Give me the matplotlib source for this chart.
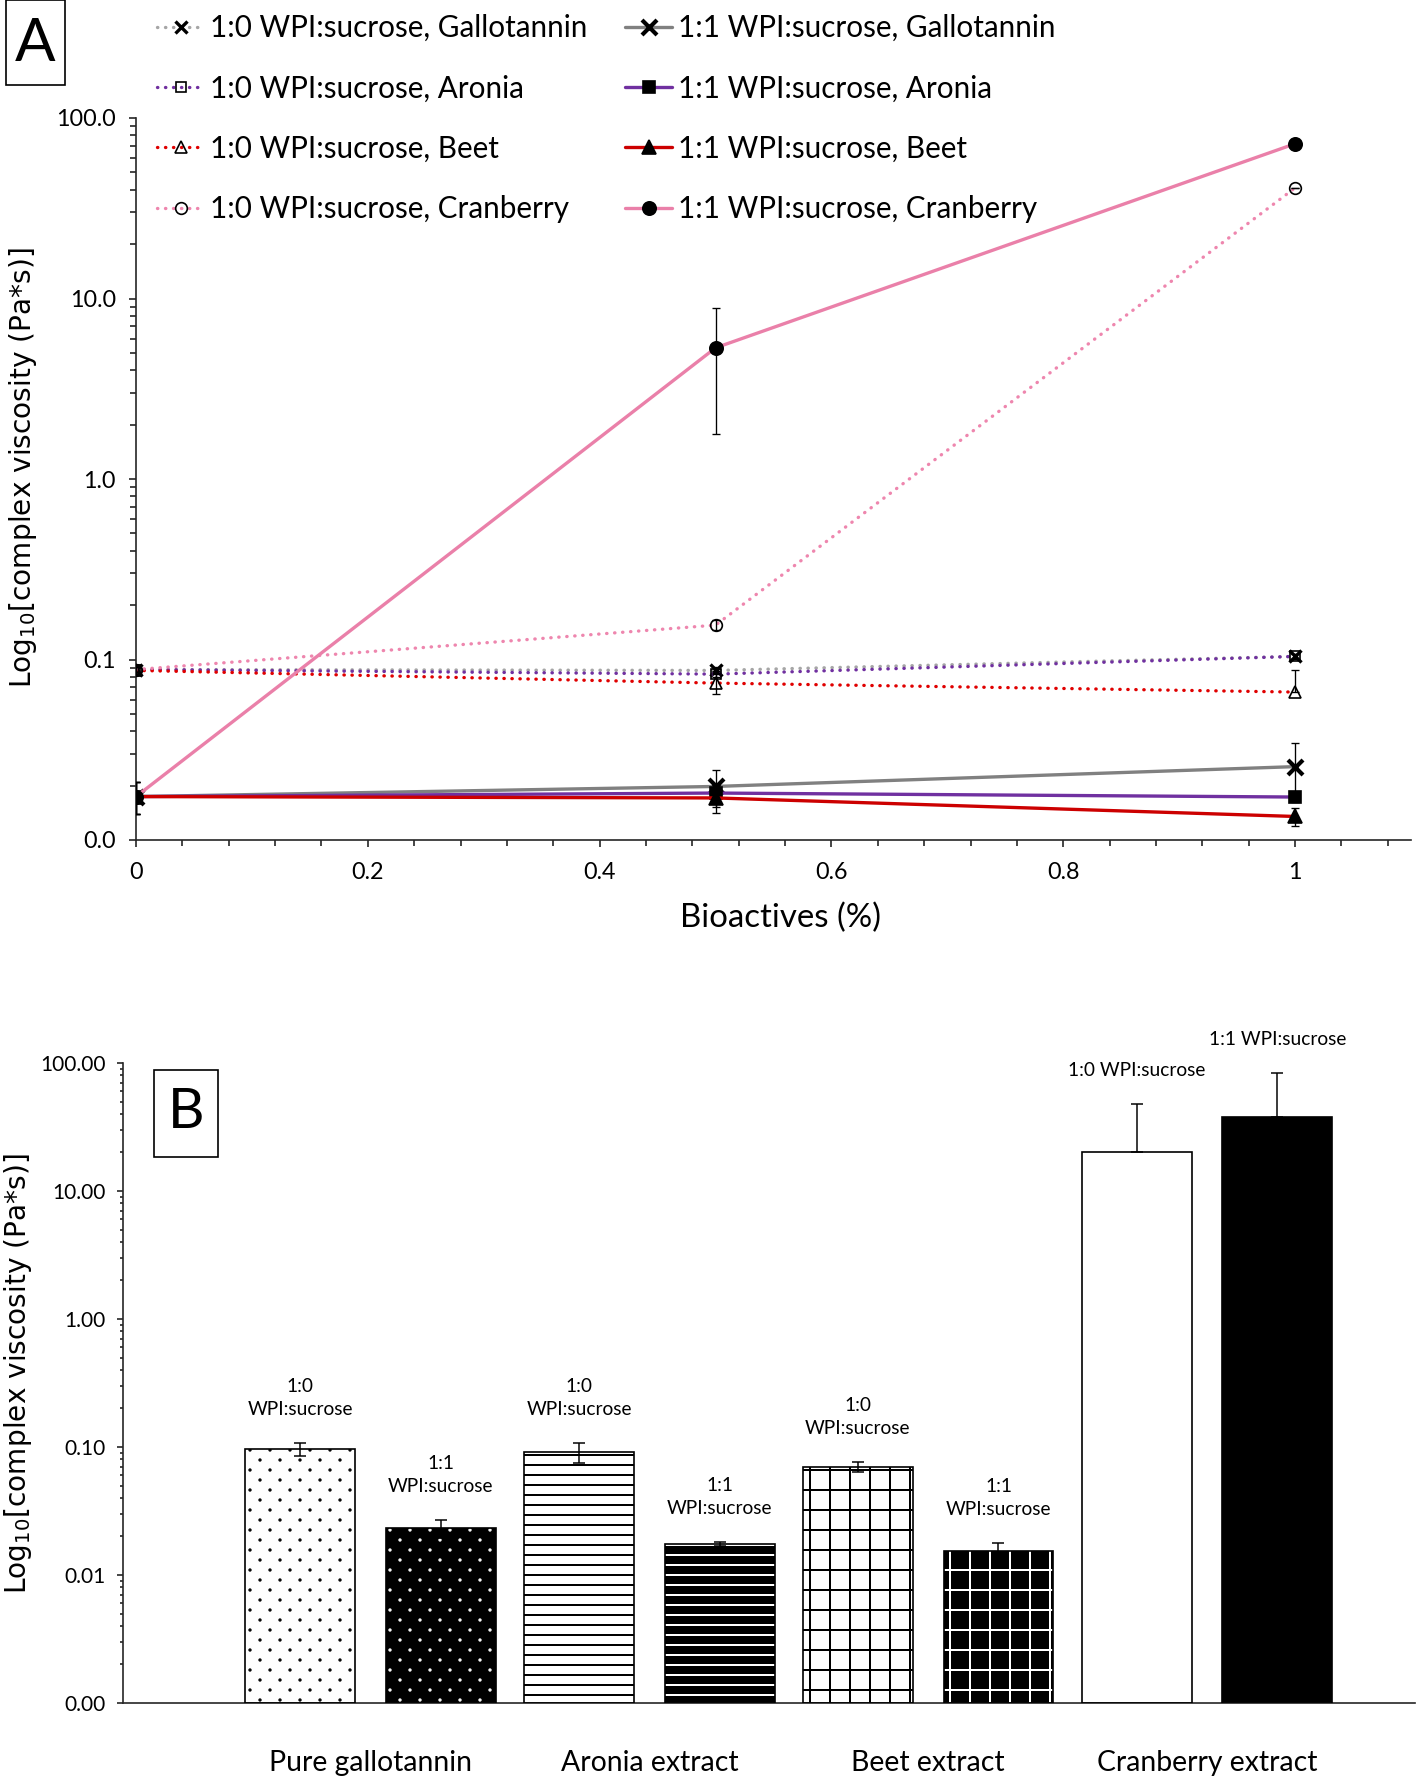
import numpy as np
import matplotlib
matplotlib.use("Agg")
import matplotlib.pyplot as plt
from matplotlib.patches import Rectangle
from matplotlib import hatch as mhatch
from matplotlib.path import Path

# ---------------- Panel A data ----------------
bioactives = [0.0, 0.5, 1.0]
series_labels = [
    "1:0 WPI:sucrose, Gallotannin", "1:0 WPI:sucrose, Aronia",
    "1:0 WPI:sucrose, Beet", "1:0 WPI:sucrose, Cranberry",
    "1:1 WPI:sucrose, Gallotannin", "1:1 WPI:sucrose, Aronia",
    "1:1 WPI:sucrose, Beet", "1:1 WPI:sucrose, Cranberry",
]
gall_10 = [0.088, 0.087, 0.104]
aron_10 = [0.088, 0.083, 0.104]
beet_10 = [0.087, 0.074, 0.066]
cran_10 = [0.088, 0.155, 41.0]
gall_11 = [0.0174, 0.0198, 0.0255]
aron_11 = [0.0174, 0.0182, 0.0173]
beet_11 = [0.0174, 0.0171, 0.0135]
cran_11 = [0.0174, 5.33, 72.0]
# error bars (lower, upper)
gall_10_lo = [0.005, 0.004, 0.003]; gall_10_hi = [0.005, 0.004, 0.003]
aron_10_lo = [0.005, 0.003, 0.003]; aron_10_hi = [0.005, 0.003, 0.003]
beet_10_lo = [0.005, 0.010, 0.0];   beet_10_hi = [0.005, 0.010, 0.021]
cran_10_lo = [0.005, 0.010, 0.0];   cran_10_hi = [0.005, 0.010, 0.0]
gall_11_lo = [0.0035, 0.0045, 0.009]; gall_11_hi = [0.0035, 0.0045, 0.009]
aron_11_lo = [0.0035, 0.002, 0.001];  aron_11_hi = [0.0035, 0.002, 0.001]
beet_11_lo = [0.0035, 0.003, 0.0015]; beet_11_hi = [0.0035, 0.003, 0.0015]
cran_11_lo = [0.0035, 3.55, 4.7];     cran_11_hi = [0.0035, 3.55, 4.7]
a_xticks = [0, 0.2, 0.4, 0.6, 0.8, 1.0]
a_xticklabels = ["0", "0.2", "0.4", "0.6", "0.8", "1"]
a_yticks = [0.01, 0.1, 1, 10, 100]
a_yticklabels = ["0.0", "0.1", "1.0", "10.0", "100.0"]

# ---------------- Panel B data ----------------
categories = ["Pure gallotannin", "Aronia extract", "Beet extract", "Cranberry extract"]
visc_10 = [0.0965, 0.091, 0.070, 20.3]
visc_10_err = [0.011, 0.016, 0.006, 27.5]
visc_11 = [0.0232, 0.0175, 0.0154, 37.6]
visc_11_err = [0.0037, 0.0006, 0.0024, 45.5]
bar_labels_10 = ["1:0\nWPI:sucrose", "1:0\nWPI:sucrose", "1:0\nWPI:sucrose", "1:0 WPI:sucrose"]
bar_labels_11 = ["1:1\nWPI:sucrose", "1:1\nWPI:sucrose", "1:1\nWPI:sucrose", "1:1 WPI:sucrose"]
b_yticks = [0.001, 0.01, 0.1, 1, 10, 100]
b_yticklabels = ["0.00", "0.01", "0.10", "1.00", "10.00", "100.00"]


# ---------------- sparse staggered dot fill pattern (Excel-like) ----------------
class SparseDots(mhatch.HatchPatternBase):
    radius = 0.0055

    def __init__(self, hatch, density):
        n = hatch.count(".")
        centers = []
        if n:
            ncols = n * density
            nrows = 2 * n * density
            for row in range(nrows + 1):
                y = row / nrows
                if row % 2 == 0:
                    xs = np.arange(ncols + 1) / ncols
                else:
                    xs = (np.arange(ncols) + 0.5) / ncols
                for x in xs:
                    centers.append((x, y))
        self.centers = np.array(centers).reshape(-1, 2)
        circ = Path.unit_circle()
        self.shape_vertices = circ.vertices
        self.shape_codes = circ.codes
        self.num_vertices = len(self.centers) * len(self.shape_vertices)

    def set_vertices_and_codes(self, vertices, codes):
        sv = self.shape_vertices * self.radius
        vparts = [sv + c for c in self.centers]
        cparts = [self.shape_codes for _ in self.centers]
        np.concatenate(vparts, out=vertices)
        np.concatenate(cparts, out=codes)


mhatch._hatch_types = [t for t in mhatch._hatch_types
                       if t is not mhatch.SmallFilledCircles] + [SparseDots]

# ---------------- figure ----------------
plt.rcParams["font.family"] = ["Lato", "DejaVu Sans"]
plt.rcParams["hatch.linewidth"] = 1.2
DPI = 120
W, H = 1418, 1777
fig = plt.figure(figsize=(W / DPI, H / DPI), dpi=DPI)


def fx(px):
    return px / W


def fy(py):
    return 1 - py / H


axis_col = "#262626"

# ======== Panel A ========
axA = fig.add_axes([fx(136), fy(840), (1411 - 136) / W, (840 - 118) / H])
axA.set_yscale("log")
dotted = (0, (0.1, 2.3))
styles = [
    dict(color="#A6A6A6", ls=dotted, lw=2.0, marker="x", ms=7, mew=2.0, mec="black", mfc="black"),
    dict(color="#7030A0", ls=dotted, lw=2.0, marker="s", ms=6.5, mew=1.0, mec="black", mfc="none"),
    dict(color="#E00000", ls=dotted, lw=2.0, marker="^", ms=7.5, mew=1.0, mec="black", mfc="none"),
    dict(color="#EE86AE", ls=dotted, lw=2.0, marker="o", ms=7, mew=1.0, mec="black", mfc="none"),
    dict(color="#808080", ls="-", lw=2.0, marker="x", ms=9, mew=2.5, mec="black", mfc="black"),
    dict(color="#7030A0", ls="-", lw=2.0, marker="s", ms=7.5, mew=1.0, mec="black", mfc="black"),
    dict(color="#CC0000", ls="-", lw=2.0, marker="^", ms=8, mew=1.0, mec="black", mfc="black"),
    dict(color="#EA80A9", ls="-", lw=2.0, marker="o", ms=8, mew=1.0, mec="black", mfc="black"),
]
series_vals = [gall_10, aron_10, beet_10, cran_10, gall_11, aron_11, beet_11, cran_11]
series_lo = [gall_10_lo, aron_10_lo, beet_10_lo, cran_10_lo, gall_11_lo, aron_11_lo, beet_11_lo, cran_11_lo]
series_hi = [gall_10_hi, aron_10_hi, beet_10_hi, cran_10_hi, gall_11_hi, aron_11_hi, beet_11_hi, cran_11_hi]

handles = []
for k, (vals, lo, hi, lab, st) in enumerate(zip(series_vals, series_lo, series_hi, series_labels, styles)):
    (ln,) = axA.plot(bioactives, vals, label=lab, zorder=3 + k * 0.1,
                     dash_capstyle="round", solid_capstyle="round", **st)
    handles.append(ln)
    axA.errorbar(bioactives, vals, yerr=[lo, hi], fmt="none", ecolor="black",
                 elinewidth=0.8, capsize=2.2, capthick=0.8, zorder=4)

axA.set_xlim(0, 1.1)
axA.set_ylim(0.01, 100)
axA.set_xticks(a_xticks)
axA.set_xticklabels(a_xticklabels)
axA.set_xticks(np.arange(0, 1.1, 0.04), minor=True)
axA.set_yticks(a_yticks)
axA.set_yticklabels(a_yticklabels)
axA.yaxis.set_minor_locator(matplotlib.ticker.LogLocator(base=10, subs=np.arange(2, 10)))
axA.yaxis.set_minor_formatter(matplotlib.ticker.NullFormatter())
axA.tick_params(axis="both", which="major", direction="out", length=4, width=1, color=axis_col,
                labelsize=14)
axA.tick_params(axis="both", which="minor", direction="out", length=3.5, width=1, color=axis_col)
axA.tick_params(axis="x", which="major", pad=9)
axA.tick_params(axis="y", which="major", pad=8)
for s in ["top", "right"]:
    axA.spines[s].set_visible(False)
for s in ["left", "bottom"]:
    axA.spines[s].set_color(axis_col)
    axA.spines[s].set_linewidth(1.0)

fig.legend(handles, series_labels, loc="upper left", bbox_to_anchor=(fx(157), fy(14)),
           ncol=2, frameon=False, fontsize=17.8, handlelength=1.6, handletextpad=0.2,
           columnspacing=1.25, labelspacing=1.09, borderpad=0, borderaxespad=0, numpoints=1)

fig.text(fx(780), fy(918), "Bioactives (%)", fontsize=19.8, ha="center", va="center")
fig.text(fx(23), fy(468), r"Log$_{10}$[complex viscosity (Pa*s)]", rotation=90,
         ha="center", va="center", fontsize=16.8, family="DejaVu Sans")

fig.patches.append(Rectangle((fx(6), fy(85)), (65 - 6) / W, 85 / H, transform=fig.transFigure,
                             fill=False, ec="black", lw=1.0))
fig.text(fx(35.5), fy(44), "A", fontsize=36, ha="center", va="center")

# ======== Panel B ========
axB = fig.add_axes([fx(123), fy(1703), (1415 - 123) / W, (1703 - 1063) / H])
axB.set_yscale("log")
ylimB = (0.001, 100)
axB.set_ylim(*ylimB)
xpos = np.arange(len(categories))
off, bw = 0.252, 0.394
hatches = [".", "--", "+", None]

for i in range(len(categories)):
    x10 = xpos[i] - off
    x11 = xpos[i] + off
    # 1:0 bars: white with black pattern
    axB.bar(x10, visc_10[i] - ylimB[0], bw, bottom=ylimB[0], color="white",
            edgecolor="black", hatch=hatches[i], lw=0, zorder=2)
    axB.bar(x10, visc_10[i] - ylimB[0], bw, bottom=ylimB[0], fill=False,
            edgecolor="black", lw=1.0, zorder=3)
    # 1:1 bars: black with white pattern
    axB.bar(x11, visc_11[i] - ylimB[0], bw, bottom=ylimB[0], color="black",
            edgecolor="white", hatch=hatches[i], lw=0, zorder=2)
    axB.bar(x11, visc_11[i] - ylimB[0], bw, bottom=ylimB[0], fill=False,
            edgecolor="black", lw=1.0, zorder=3)

for xs, vals, errs, labs in [(xpos - off, visc_10, visc_10_err, bar_labels_10),
                             (xpos + off, visc_11, visc_11_err, bar_labels_11)]:
    vals = np.asarray(vals); errs = np.asarray(errs)
    lo = np.where(errs < vals, errs, 0.0)
    axB.errorbar(xs, vals, yerr=[lo, errs], fmt="none", ecolor="black", elinewidth=0.9,
                 capsize=3.5, capthick=0.9, zorder=4)
    for xx, v, e, t in zip(xs, vals, errs, labs):
        axB.annotate(t, (xx, v + e), xytext=(0, 15), textcoords="offset points",
                     ha="center", va="bottom", fontsize=11.5, linespacing=1.45)

axB.set_xlim(-0.888, 3.746)
axB.set_xticks(xpos)
axB.set_xticklabels(categories)
axB.tick_params(axis="x", length=0, pad=28, labelsize=17)
axB.set_yticks(b_yticks)
axB.set_yticklabels(b_yticklabels)
axB.yaxis.set_minor_locator(matplotlib.ticker.LogLocator(base=10, subs=np.arange(2, 10)))
axB.yaxis.set_minor_formatter(matplotlib.ticker.NullFormatter())
axB.tick_params(axis="y", which="major", direction="out", length=3.5, width=1, color=axis_col,
                labelsize=12.5, pad=7)
axB.tick_params(axis="y", which="minor", direction="out", length=2, width=1, color=axis_col)
for s in ["top", "right"]:
    axB.spines[s].set_visible(False)
for s in ["left", "bottom"]:
    axB.spines[s].set_color(axis_col)
    axB.spines[s].set_linewidth(1.0)

fig.text(fx(18), fy(1374), r"Log$_{10}$[complex viscosity (Pa*s)]", rotation=90,
         ha="center", va="center", fontsize=16.8, family="DejaVu Sans")
fig.patches.append(Rectangle((fx(154), fy(1157)), (218 - 154) / W, (1157 - 1070) / H,
                             transform=fig.transFigure, fill=False, ec="black", lw=1.0))
fig.text(fx(186), fy(1113), "B", fontsize=34, ha="center", va="center")

fig.savefig("out.png", dpi=DPI)
